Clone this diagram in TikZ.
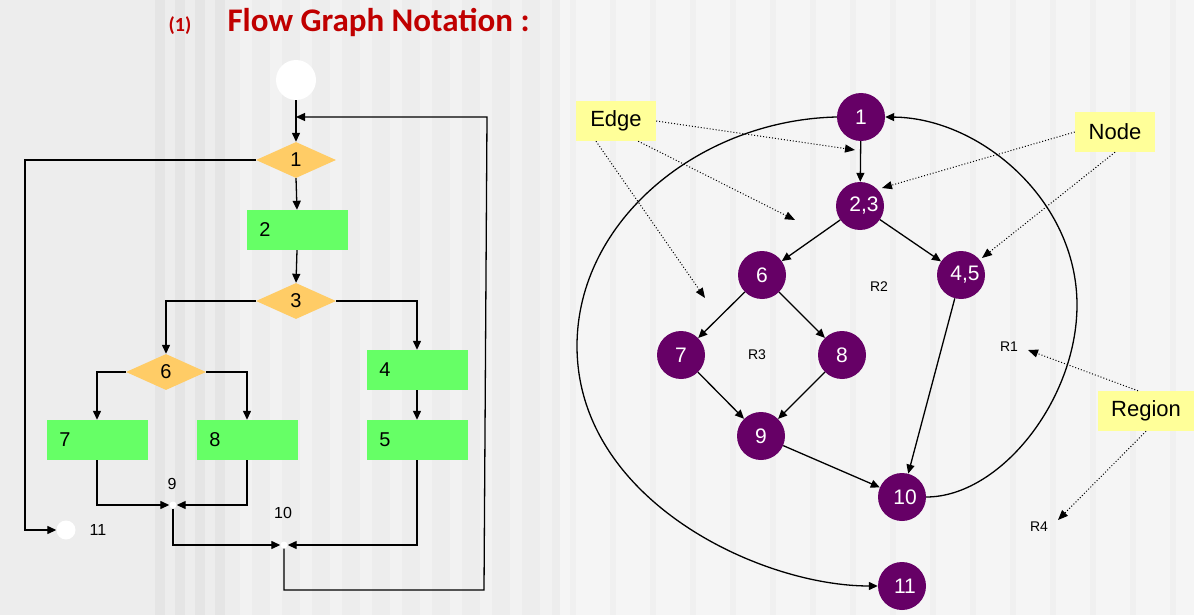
\documentclass[tikz,border=0pt]{standalone}
\usepackage{fontspec}
\setmainfont{Liberation Sans}
\newfontfamily\titlefont{Carlito}
\usetikzlibrary{arrows.meta,shapes.geometric}
\definecolor{pur}{HTML}{660066}
\definecolor{grn}{HTML}{66FF66}
\definecolor{dia}{HTML}{FFCC66}
\definecolor{yel}{HTML}{FFFF99}
\definecolor{ttl}{HTML}{C00000}
\begin{document}
\begin{tikzpicture}[x=1pt,y=-1pt,
  ar/.style={-{Triangle[length=9pt,width=8pt]},line width=1.3pt},
  dt/.style={-{Triangle[length=10pt,width=8pt]},dotted,line width=1pt},
  box/.style={fill=grn,minimum width=101pt,minimum height=40pt,inner sep=0pt},
  btxt/.style={font=\fontsize{20}{20}\selectfont},
  dm/.style={diamond,fill=dia,aspect=2.2,minimum width=80pt,minimum height=36pt,inner sep=0pt,font=\fontsize{20}{20}\selectfont},
  pn/.style={circle,fill=pur,minimum size=48pt,inner sep=0pt,text=white,font=\fontsize{21}{21}\selectfont},
  lab/.style={fill=yel,minimum width=80pt,minimum height=40pt,inner sep=0pt,font=\fontsize{22}{22}\selectfont},
  rl/.style={font=\fontsize{14}{14}\selectfont}]
\fill[black!7] (0,0) rectangle (1194,615);
\foreach \x in {155,175,195,215} \fill[black!10] (\x,0) rectangle (\x+10,615);
\foreach \x in {240,270,...,560} \fill[black!5] (\x,0) rectangle (\x+12,615);
\fill[black!4] (560,0) rectangle (1194,615);
\foreach \x in {570,610,...,1180} \fill[black!6] (\x,0) rectangle (\x+6,615);
\useasboundingbox (0,0) rectangle (1194,615);
% title
\node[text=ttl,font=\titlefont\bfseries\fontsize{20}{20}\selectfont] (num) at (180,26) {(1)};
\node[text=ttl,font=\titlefont\bfseries\fontsize{33}{33}\selectfont,anchor=west] (ttl) at (224,22) {Flow Graph Notation :};
% left flowchart
\node[circle,fill=white,minimum size=40pt,inner sep=0pt] (st) at (296,80) {};
\node[dm] (d1) at (296,160) {1};
\node[box] (b2) at (297,230) {}; \node[btxt] (t2) at (265,230) {2};
\node[dm] (d3) at (296,301) {3};
\node[dm] (d6) at (166,372) {6};
\node[box] (b4) at (417,370) {}; \node[btxt] (t4) at (385,370) {4};
\node[box] (b5) at (417,440) {}; \node[btxt] (t5) at (385,440) {5};
\node[box] (b7) at (97,440) {}; \node[btxt] (t7) at (65,440) {7};
\node[box] (b8) at (247,440) {}; \node[btxt] (t8) at (215,440) {8};
\node[circle,fill=white,minimum size=7pt,inner sep=0pt] (j9) at (173,505) {};
\node[circle,fill=white,minimum size=7pt,inner sep=0pt] (j10) at (284,545) {};
\node[circle,fill=white,minimum size=19pt,inner sep=0pt] (e11) at (66,530) {};
\node[font=\fontsize{16}{16}\selectfont] (l9) at (172,484) {9};
\node[font=\fontsize{16}{16}\selectfont] (l10) at (283,513) {10};
\node[font=\fontsize{16}{16}\selectfont] (l11) at (98,530) {11};
\coordinate (lp) at (296,117);
\draw[ar] (st.south) -- (d1.north);
\draw[ar] (d1.south) -- (b2.north);
\draw[ar] (b2.south) -- (d3.north);
\draw[ar] (d3.west) -| (d6.north);
\draw[ar] (d3.east) -| (b4.north);
\draw[ar] (b4.south) -- (b5.north);
\draw[ar] (d6.west) -| (b7.north);
\draw[ar] (d6.east) -| (b8.north);
\draw[ar] (b7.south) |- (j9.west);
\draw[ar] (b8.south) |- (j9.east);
\draw[ar] (j9.south) |- (j10.west);
\draw[ar] (b5.south) |- (j10.east);
\draw[ar] (j10.south) -- (284,590) -- (484,590) -- (487,117) -- (lp);
\draw[ar] (d1.west) -- (25,160) -- (25,530) -- (e11.west);
% right graph
\node[pn] (n1) at (861,117) {1};
\node[pn] (n23) at (860,206) {\hspace*{8pt}2,3};
\node[pn] (n6) at (762,275) {6};
\node[pn] (n45) at (961,275) {\hspace*{8pt}4,5};
\node[pn] (n7) at (681,355) {7};
\node[pn] (n8) at (842,355) {8};
\node[pn] (n9) at (761,436) {9};
\node[pn] (n10) at (902,497) {\hspace*{6pt}10};
\node[pn] (n11) at (902,586) {\hspace*{6pt}11};
\draw[ar] (n1) -- (n23);
\draw[ar] (n23) -- (n6);
\draw[ar] (n23) -- (n45);
\draw[ar] (n6) -- (n7);
\draw[ar] (n6) -- (n8);
\draw[ar] (n7) -- (n9);
\draw[ar] (n8) -- (n9);
\draw[ar] (n9) -- (n10);
\draw[ar] (n45) -- (n10);
\draw[ar] (n1.west) .. controls (700,120) and (577,220) .. (577,346) .. controls (577,500) and (760,586) .. (n11.west);
\draw[ar] (n10.east) .. controls (1000,497) and (1077,400) .. (1077,305) .. controls (1077,200) and (980,118) .. (n1.east);
\node[rl] (r2) at (879,287) {R2};
\node[rl] (r3) at (757,355) {R3};
\node[rl] (r1) at (1009,347) {R1};
\node[rl] (r4) at (1039,527) {R4};
\node[lab] (edge) at (616,121) {Edge};
\node[lab] (node) at (1115,132) {Node};
\node[lab,minimum width=97pt] (reg) at (1146,411) {Region};
\coordinate (ea) at (855,150); \coordinate (eb) at (795,220); \coordinate (ec) at (705,298);
\coordinate (na) at (882,188); \coordinate (nb) at (982,258);
\coordinate (ra) at (1028,350); \coordinate (rb) at (1058,520);
\draw[dt] (edge.east) -- (ea);
\draw[dt] (edge.south east) ++(-18,0) -- (eb);
\draw[dt] (edge.south) ++(-20,0) -- (ec);
\draw[dt] (node.west) -- (na);
\draw[dt] (node.south) -- (nb);
\draw[dt] (reg.north) ++(-8,0) -- (ra);
\draw[dt] (reg.south) -- (rb);
\end{tikzpicture}
\end{document}
